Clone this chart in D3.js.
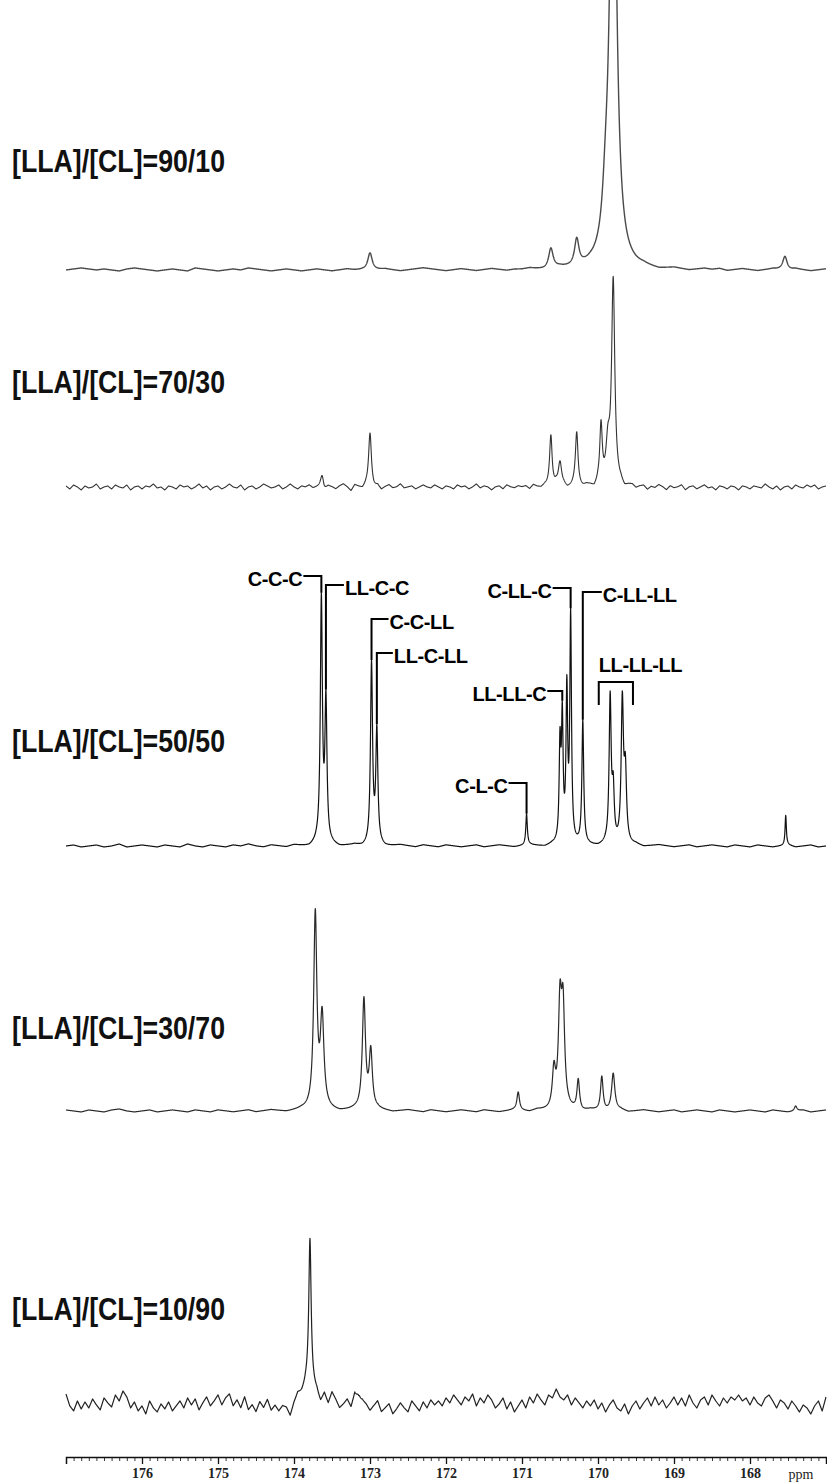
<!DOCTYPE html>
<html>
<head>
<meta charset="utf-8">
<script src="https://cdn.jsdelivr.net/npm/d3@7/dist/d3.min.js"></script>
<style>
  html, body { margin: 0; padding: 0; background: #fff; }
  svg { display: block; }
</style>
</head>
<body>
<svg id="chart" width="827" height="1483"></svg>
<script>
// ---------------------------------------------------------------
// 13C NMR carbonyl region of LLA/CL copolymers, five feed ratios
// ---------------------------------------------------------------

// Axis (ppm)
const ppmDomain = [177, 167];
const majorTicks = [176, 175, 174, 173, 172, 171, 170, 169, 168];

// Feed-ratio captions, top to bottom
const ratioLabels = [
  "[LLA]/[CL]=90/10",
  "[LLA]/[CL]=70/30",
  "[LLA]/[CL]=50/50",
  "[LLA]/[CL]=30/70",
  "[LLA]/[CL]=10/90"
];

// Resonances: [shift (ppm), intensity (a.u.), half width (ppm)]
const peaks9010 = [
  [173.00, 18, 0.035],
  [170.62, 20, 0.035],
  [170.28, 27, 0.035],
  [169.90, 40, 0.050],
  [169.80, 520, 0.050],
  [167.54, 14, 0.035]
];
const peaks7030 = [
  [173.63, 12, 0.022],
  [173.00, 54, 0.022],
  [170.62, 52, 0.020],
  [170.50, 24, 0.025],
  [170.28, 52, 0.020],
  [169.96, 60, 0.020],
  [169.87, 36, 0.030],
  [169.80, 205, 0.025]
];
const peaks5050 = [
  [173.64, 243, 0.016],
  [173.58, 140, 0.016],
  [172.98, 180, 0.016],
  [172.91, 112, 0.016],
  [170.94, 31, 0.012],
  [170.50, 95, 0.013],
  [170.47, 120, 0.013],
  [170.41, 150, 0.013],
  [170.36, 225, 0.013],
  [170.20, 122, 0.014],
  [169.84, 145, 0.016],
  [169.80, 50, 0.016],
  [169.68, 142, 0.018],
  [169.64, 68, 0.018],
  [167.53, 30, 0.010]
];
const peaks3070 = [
  [173.72, 195, 0.025],
  [173.63, 90, 0.028],
  [173.08, 110, 0.025],
  [172.99, 58, 0.025],
  [171.05, 18, 0.020],
  [170.58, 38, 0.025],
  [170.50, 100, 0.025],
  [170.46, 96, 0.025],
  [170.26, 30, 0.020],
  [169.95, 34, 0.020],
  [169.80, 37, 0.025],
  [167.40, 5, 0.020]
];
const peaks1090 = [
  [173.79, 140, 0.018],
  [173.79, 25, 0.080],
  [173.15, 10, 0.030]
];

// Baseline noise (a.u.), sampled from 177 ppm downward
const noiseStep9010 = 0.1;
const noise9010 = [
  0, 1, 2, 1, 0, 1, 0, -1, 1, 2,
  1, 0, -1, 0, 1, 0, -1, 2, 1, 0,
  -1, 0, 1, 0, 2, 1, 0, -1, 0, 1,
  0, -1, 0, 1, 0, -1, 0, 1, 0, 0,
  -1, 0, 1, 0, -1, 0, 1, 2, 1, 0,
  -1, 0, 1, 0, -1, 0, 1, 0, -1, 0,
  0, 1, 0, -1, 0, 1, 0, -1, 0, 1,
  0, -1, 0, 1, 0, 0, 1, 0, -1, 0,
  1, 0, -1, 0, 1, 0, 1, -1, 0, 1,
  0, -1, 0, 1, 0, -1, 1, 0, -1, 0,
  1
];
const noiseStep7030 = 0.05;
const noise7030 = [
  1, -2, 2, 0, -3, 1, -1, 0, 3, -2, 0, 1, -2, 2, 0, -1, 2, -3, 0, 1,
  -2, 1, 0, 3, -1, 0, -3, 1, 0, -2, 2, 0, 1, -2, 0, 3, -1, 1, -3, 0,
  1, -2, 0, 3, 0, -1, 2, -3, 0, 1, -2, 0, 3, 1, -1, 0, 2, -2, 0, 3,
  0, -2, 1, 0, 2, -1, 0, 1, -3, 1, 0, -2, 1, 3, 0, -4, 2, 0, -2, 1,
  0, -2, 1, -3, 0, 2, -1, 0, 3, -1, 0, 1, -2, 0, 2, 0, -1, 2, 0, -2,
  1, 0, -2, 2, 0, 1, -2, 0, 3, -1, 1, 0, -3, 0, 1, -2, 2, 0, -1, 1,
  0, 1, -2, 2, 0, -1, 1, 0, -2, 2, 0, 1, -2, 0, 3, 0, -1, 1, 0, -3,
  1, -2, 0, 2, -1, 0, 1, -3, 0, 1, -2, 0, 1, -3, 0, -1, 2, 0, -3, 1,
  -1, 0, 2, -3, 0, 1, -2, 0, 2, -1, 0, -3, 1, 0, -2, 1, 0, -3, 1, 0,
  -2, 1, 0, -1, 3, 0, -2, 1, -3, 0, 1, -2, 2, 0, -1, 2, 0, 2, -2, 0,
  1
];
const noiseStep5050 = 0.1;
const noise5050 = [
  0, 1, -1, 0, 1, -1, 0, 2, -1, 0,
  1, 0, -1, 1, 0, -1, 2, 0, -1, 1,
  0, -1, 1, 0, 2, 0, -1, 1, 0, -1,
  1, 0, -1, 2, 0, 1, -1, 0, 1, -1,
  0, 1, -1, 0, 1, 0, -1, 1, 0, -1,
  1, 0, -1, 0, 1, -1, 0, 1, 0, -1,
  0, 1, 0, -1, 1, 0, -1, 0, 1, 0,
  -1, 1, 0, -1, 0, 1, -1, 0, 1, 0,
  -1, 0, 1, -1, 0, 1, 0, -1, 1, 0,
  -1, 1, 0, -1, 0, 1, -1, 0, 1, -1,
  0
];
const noiseStep3070 = 0.1;
const noise3070 = [
  1, 0, -1, 1, 0, -1, 1, 2, 0, -1,
  0, 1, -1, 0, 1, 0, -1, 1, 0, -1,
  1, 0, -1, 0, 1, -1, 0, 1, 0, -1,
  0, 1, 0, -1, 1, 0, -1, 0, 1, 0,
  -1, 1, 0, -1, 0, 1, 0, -1, 1, 0,
  -1, 0, 1, 0, -1, 1, 0, -1, 0, 1,
  0, -1, 1, 0, -1, 0, 1, 0, -1, 1,
  0, -1, 0, 1, -1, 0, 1, 0, -1, 0,
  1, -1, 0, 1, 0, -1, 1, 0, -1, 0,
  1, 0, -1, 1, 0, -1, 0, 1, -1, 0,
  1
];
const noiseStep1090 = 0.05;
const noise1090 = [
  9, -3, -8, 2, -6, 1, -5, 4, -2, -7, 5, 0, -4, 8, 2, 12, 6, -5, 1, -8,
  -3, -11, 2, -5, -9, -1, -6, 1, -8, -3, 2, -5, 5, -2, 4, -7, 0, 6, -3, 2,
  8, -2, 5, 9, -3, 3, -5, 6, -7, -2, -9, 1, -5, 3, -8, -3, -9, -4, -6, -15,
  -3, 5, 2, 3, 0, -2, 1, -5, 6, -3, 9, 2, -6, -2, 3, -5, 8, -3, 1, -2,
  -8, -3, 2, -9, -5, -1, -11, -6, 0, -5, -9, 2, -3, -8, 1, -5, 3, -2, 2, -3,
  5, 0, 8, 3, -2, 6, 2, 9, -3, 5, 0, 8, 3, -5, -1, 5, -6, 1, -9, -3,
  3, -5, 6, 0, 9, 3, -2, 8, 5, 14, 6, 3, 8, -2, 5, 0, -5, 2, -3, 3,
  -6, 0, -9, -2, 3, -5, -8, -1, -11, -3, 2, -6, 0, 5, -3, 6, -2, 3, -5, 0,
  6, -2, 5, -3, 8, 0, -5, 3, 6, -2, 8, 2, -3, 5, 0, 6, 3, 8, 2, 5,
  -2, 6, 0, -3, 5, 8, 2, -5, 3, 0, -6, 2, -3, -9, -2, -5, -11, -3, 2, -8,
  6
];

// Sequence assignments marked on the 50/50 spectrum
const assignNames = ["C-C-C", "LL-C-C", "C-C-LL", "LL-C-LL", "C-L-C", "LL-LL-C", "C-LL-C", "C-LL-LL"];
const assignShifts = [173.64, 173.58, 172.98, 172.91, 170.94, 170.47, 170.36, 170.20];
const groupName = "LL-LL-LL";
const groupRange = [169.99, 169.54];

// ---------------------------------------------------------------
// Layout
// ---------------------------------------------------------------
const svg = d3.select("#chart");
const x = d3.scaleLinear().domain(ppmDomain).range([66, 826]);

const panelBase = [270, 487, 846, 1111, 1403];
const labelBaseline = [172, 393, 752, 1039, 1320];
const lineColors = ["#4a4a4a", "#333", "#111", "#2a2a2a", "#222"];
const lineWidths = [1.4, 1.1, 1.2, 1.2, 1.2];

const spectra = [
  { peaks: peaks9010, noise: noise9010, step: noiseStep9010 },
  { peaks: peaks7030, noise: noise7030, step: noiseStep7030 },
  { peaks: peaks5050, noise: noise5050, step: noiseStep5050 },
  { peaks: peaks3070, noise: noise3070, step: noiseStep3070 },
  { peaks: peaks1090, noise: noise1090, step: noiseStep1090 }
];

// Intensity at a shift: Lorentzian lines on top of the recorded baseline
function intensity(s, p) {
  let v = 0;
  for (const [c, h, w] of s.peaks) {
    const d = p - c;
    v += h * w * w / (d * d + w * w);
  }
  const pos = (ppmDomain[0] - p) / s.step;
  const i = Math.max(0, Math.min(s.noise.length - 2, Math.floor(pos)));
  const t = Math.max(0, Math.min(1, pos - i));
  v += s.noise[i] * (1 - t) + s.noise[i + 1] * t;
  return v;
}

const grid = d3.range(0, 4001).map(i => ppmDomain[0] - i * 0.0025);

const yScales = panelBase.map(b => d3.scaleLinear().domain([0, 100]).range([b, b - 100]));

spectra.forEach((s, k) => {
  const y = yScales[k];
  const pts = grid.map(p => [p, intensity(s, p)]);
  const line = d3.line().x(d => x(d[0])).y(d => y(d[1]));
  svg.append("path")
    .datum(pts)
    .attr("d", line)
    .attr("fill", "none")
    .attr("stroke", lineColors[k])
    .attr("stroke-width", lineWidths[k])
    .attr("stroke-linejoin", "round");
});

// Feed-ratio captions
svg.selectAll("text.ratio")
  .data(ratioLabels)
  .join("text")
  .attr("class", "ratio")
  .attr("x", 12)
  .attr("y", (d, i) => labelBaseline[i])
  .attr("textLength", 213)
  .attr("lengthAdjust", "spacingAndGlyphs")
  .style("font-family", "'Liberation Sans', Arial, sans-serif")
  .style("font-weight", "bold")
  .style("font-size", "32px")
  .style("fill", "#111")
  .text(d => d);

// Assignment leaders on the 50/50 trace
const ann = svg.append("g");
const y5050 = yScales[2];
const s5050 = spectra[2];
const assignLayout = [
  { side: "left",  ly: 576, run: 18 },
  { side: "right", ly: 585, run: 18 },
  { side: "right", ly: 619, run: 17 },
  { side: "right", ly: 653, run: 16 },
  { side: "left",  ly: 783, run: 18 },
  { side: "left",  ly: 691, run: 15 },
  { side: "left",  ly: 588, run: 18 },
  { side: "right", ly: 592, run: 19 }
];
const annFont = "'Liberation Sans', Arial, sans-serif";

assignNames.forEach((name, i) => {
  const L = assignLayout[i];
  const px = x(assignShifts[i]);
  const top = y5050(intensity(s5050, assignShifts[i]));
  const hx = L.side === "left" ? px - L.run : px + L.run;
  ann.append("path")
    .attr("d", `M${hx},${L.ly}H${px}V${top}`)
    .attr("fill", "none")
    .attr("stroke", "#000")
    .attr("stroke-width", 2);
  ann.append("text")
    .attr("x", L.side === "left" ? hx - 1 : hx + 1)
    .attr("y", L.ly + 10)
    .attr("text-anchor", L.side === "left" ? "end" : "start")
    .style("font-family", annFont)
    .style("font-weight", "bold")
    .style("font-size", "20px")
    .style("letter-spacing", "-0.4px")
    .style("fill", "#000")
    .text(name);
});

// Bracket over the LL-LL-LL pair
{
  const x0 = x(groupRange[0]), x1 = x(groupRange[1]);
  const by = 682, leg = 23;
  ann.append("path")
    .attr("d", `M${x0},${by + leg}V${by}H${x1}V${by + leg}`)
    .attr("fill", "none")
    .attr("stroke", "#000")
    .attr("stroke-width", 2);
  ann.append("text")
    .attr("x", x0)
    .attr("y", by - 10)
    .style("font-family", annFont)
    .style("font-weight", "bold")
    .style("font-size", "20px")
    .style("letter-spacing", "-0.4px")
    .style("fill", "#000")
    .text(groupName);
}

// ppm axis
const axisY = 1457;
const minorAxis = d3.axisBottom(x)
  .tickValues(x.ticks(100))
  .tickSize(4)
  .tickSizeOuter(0)
  .tickFormat("");
svg.append("g")
  .attr("transform", `translate(0,${axisY})`)
  .call(minorAxis)
  .call(g => g.select(".domain").remove())
  .selectAll("line").attr("stroke", "#222").attr("stroke-width", 0.9);

const majorAxis = d3.axisBottom(x)
  .tickValues(majorTicks)
  .tickSize(7)
  .tickSizeOuter(7)
  .tickPadding(4)
  .tickFormat(d3.format("d"));
const gx = svg.append("g")
  .attr("transform", `translate(0,${axisY})`)
  .call(majorAxis);
gx.select(".domain").attr("stroke", "#111").attr("stroke-width", 1.5);
gx.selectAll(".tick line").attr("stroke", "#111").attr("stroke-width", 1.3);
gx.selectAll(".tick text")
  .style("font-family", "'Liberation Serif', 'Times New Roman', serif")
  .style("font-weight", "bold")
  .style("font-size", "14px")
  .style("fill", "#222");

svg.append("text")
  .attr("x", 801)
  .attr("y", axisY + 22)
  .attr("text-anchor", "middle")
  .style("font-family", "'Liberation Serif', 'Times New Roman', serif")
  .style("font-size", "14px")
  .style("fill", "#222")
  .text("ppm");
</script>
</body>
</html>
